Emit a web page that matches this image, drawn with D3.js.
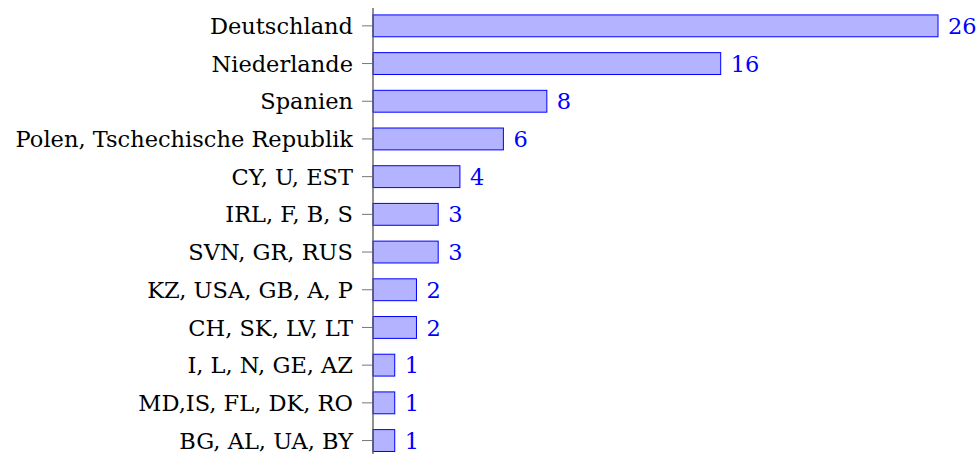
<!DOCTYPE html>
<html>
<head>
<meta charset="utf-8">
<script src="https://cdn.jsdelivr.net/npm/d3@7"></script>
<style>
  body { margin: 0; background: #fff; }
  text { font-family: "DejaVu Serif", serif; }
</style>
</head>
<body>
<div id="chart"></div>
<script>
// data
const countries = ["Deutschland", "Niederlande", "Spanien", "Polen, Tschechische Republik",
    "CY, U, EST", "IRL, F, B, S", "SVN, GR, RUS", "KZ, USA, GB, A, P",
    "CH, SK, LV, LT", "I, L, N, GE, AZ", "MD,IS, FL, DK, RO", "BG, AL, UA, BY"]
const counts = [26, 16, 8, 6, 4, 3, 3, 2, 2, 1, 1, 1]

const data = countries.map((c, i) => ({ name: c, value: counts[i] }))

var width = 978, height = 454
var svg = d3.select("#chart")
    .append("svg")
    .attr("width", width)
    .attr("height", height)

// x scale: 26 -> 938
var x = d3.scaleLinear()
    .domain([0, 26])
    .range([373, 938])

var step = 37.7
var y = d3.scaleBand()
    .domain(countries)
    .range([7, 7 + 12 * step])
    .paddingInner(0.42)
    .paddingOuter(0.21)

// bars
svg.selectAll("rect.bar")
    .data(data)
    .enter()
    .append("rect")
    .attr("class", "bar")
    .attr("x", x(0))
    .attr("y", d => y(d.name))
    .attr("width", d => x(d.value) - x(0))
    .attr("height", y.bandwidth())
    .attr("fill", "#b3b3ff")
    .attr("stroke", "#0000ff")
    .attr("stroke-width", 1)

// y axis
var yAxis = svg.append("g")
    .attr("transform", "translate(" + x(0) + ",0)")
    .call(d3.axisLeft(y).tickSize(11).tickPadding(9))
yAxis.select(".domain").remove()
yAxis.selectAll(".tick line").attr("stroke", "#777")
yAxis.selectAll(".tick text")
    .attr("fill", "#000")
    .attr("dy", "0.36em")
    .style("font-size", "22.5px")
    .style("font-family", "'DejaVu Serif', serif")

svg.append("line")
    .attr("x1", x(0)).attr("x2", x(0))
    .attr("y1", 8).attr("y2", height)
    .attr("stroke", "#555")
    .attr("stroke-width", 1.3)

// value labels
svg.selectAll("text.val")
    .data(data)
    .enter()
    .append("text")
    .attr("class", "val")
    .attr("x", d => x(d.value) + 10)
    .attr("y", d => y(d.name) + y.bandwidth() / 2)
    .attr("dy", "0.36em")
    .attr("fill", "#0000ff")
    .style("font-size", "22.5px")
    .text(d => d.value)
</script>
</body>
</html>
